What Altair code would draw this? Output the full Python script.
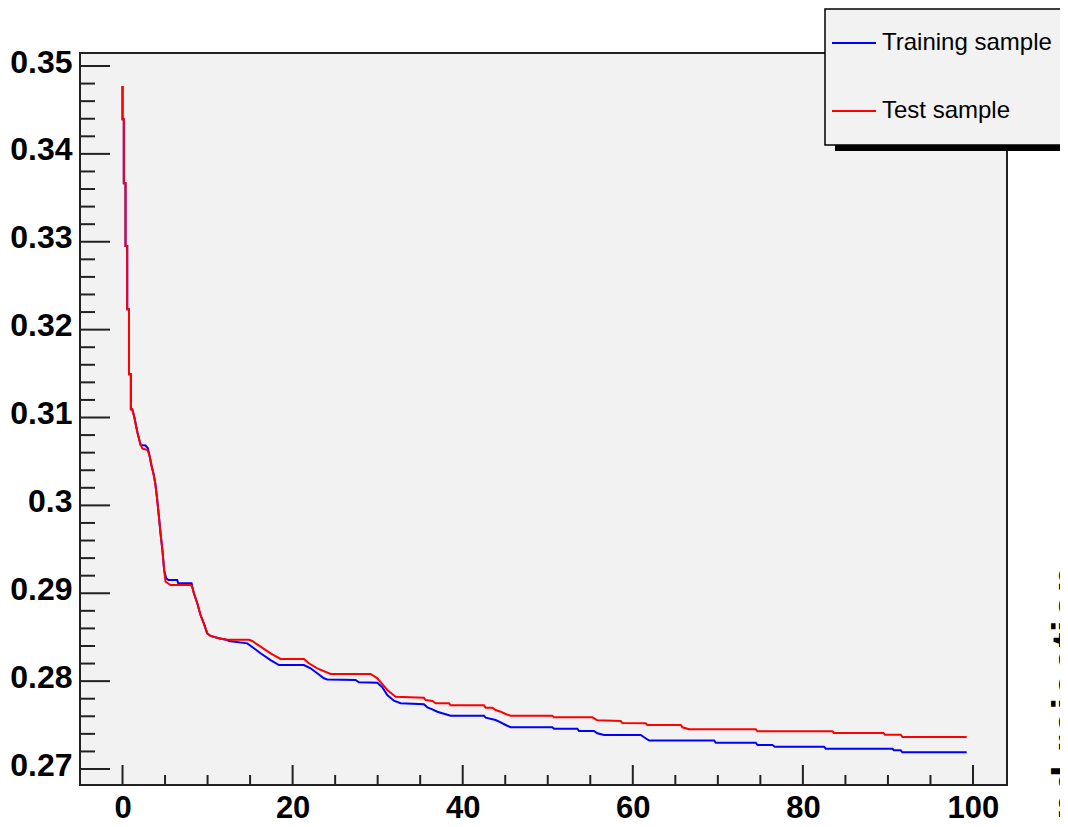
import altair as alt
import pandas as pd

# ---- data ----
common_x = [0, 0, 0.15, 0.15, 0.35, 0.35, 0.55, 0.55, 0.76, 0.76, 0.98, 0.98, 1.14, 1.38, 1.57, 1.76, 2.00]
common_y = [0.34772, 0.34393, 0.34393, 0.33665, 0.33665, 0.32952, 0.32952, 0.32231, 0.32231, 0.31492,
            0.31492, 0.31093, 0.31093, 0.31009, 0.30915, 0.30827, 0.30736]

train_x = common_x + [2.12, 2.70, 2.98, 3.18, 3.41, 3.65, 3.85, 4.04, 4.28, 4.47, 4.70, 4.90, 5.14, 5.41, 6.43,
                      6.55, 8.12, 8.20, 8.39, 8.79, 9.17, 9.56, 9.96, 10.35, 11.32, 12.31, 12.50, 14.67, 15.45,
                      16.23, 17.41, 18.39, 21.32, 22.11, 22.90, 23.68, 24.07, 27.40, 27.79, 29.96, 30.55, 31.13,
                      31.91, 32.70, 35.44, 35.84, 36.43, 37.02, 37.60, 38.58, 42.50, 42.70, 43.87, 44.46, 45.05,
                      45.63, 50.54, 50.73, 53.48, 53.67, 55.44, 55.83, 56.63, 60.94, 61.33, 61.92, 69.57, 69.76,
                      74.46, 74.66, 76.42, 76.69, 82.49, 82.69, 90.53, 90.71, 91.50, 91.70, 99.26]
train_y = common_y + [0.30687, 0.30681, 0.30650, 0.30565, 0.30451, 0.30357, 0.30251, 0.30099, 0.29871, 0.29682,
                      0.29481, 0.29257, 0.29170, 0.29151, 0.29151, 0.29113, 0.29113, 0.29075, 0.28999, 0.28886,
                      0.28752, 0.28658, 0.28544, 0.28514, 0.28487, 0.28468, 0.28457, 0.28430, 0.28374, 0.28317,
                      0.28240, 0.28183, 0.28183, 0.28146, 0.28089, 0.28032, 0.28019, 0.28013, 0.27987, 0.27982,
                      0.27930, 0.27842, 0.27777, 0.27748, 0.27736, 0.27702, 0.27679, 0.27652, 0.27634, 0.27607,
                      0.27607, 0.27584, 0.27558, 0.27531, 0.27501, 0.27475, 0.27475, 0.27459, 0.27459, 0.27432,
                      0.27432, 0.27406, 0.27387, 0.27387, 0.27361, 0.27324, 0.27324, 0.27299, 0.27299, 0.27273,
                      0.27273, 0.27254, 0.27254, 0.27231, 0.27231, 0.27213, 0.27213, 0.27190, 0.27190]

test_x = common_x + [2.32, 2.94, 3.18, 3.41, 3.65, 3.85, 4.04, 4.28, 4.47, 4.70, 4.90, 5.06, 5.65, 7.99, 8.20,
                     8.39, 8.79, 9.17, 9.56, 9.96, 10.35, 11.32, 12.31, 14.86, 15.25, 16.23, 17.41, 18.58, 21.32,
                     21.91, 22.90, 24.46, 29.17, 29.96, 31.13, 32.11, 35.44, 35.64, 36.43, 36.82, 38.38, 38.58,
                     42.50, 42.70, 43.48, 43.87, 44.46, 45.05, 45.63, 50.54, 50.73, 55.24, 55.83, 58.57, 58.77,
                     61.51, 61.71, 65.64, 65.84, 66.61, 74.46, 74.66, 83.47, 83.66, 89.47, 89.66, 91.51, 91.71,
                     99.26]
test_y = common_y + [0.30647, 0.30630, 0.30565, 0.30451, 0.30357, 0.30251, 0.30099, 0.29871, 0.29682, 0.29481,
                     0.29257, 0.29131, 0.29094, 0.29094, 0.29075, 0.28999, 0.28886, 0.28752, 0.28658, 0.28544,
                     0.28514, 0.28487, 0.28470, 0.28470, 0.28457, 0.28392, 0.28317, 0.28252, 0.28252, 0.28203,
                     0.28146, 0.28081, 0.28081, 0.28032, 0.27899, 0.27823, 0.27811, 0.27785, 0.27774, 0.27748,
                     0.27748, 0.27725, 0.27725, 0.27698, 0.27698, 0.27671, 0.27652, 0.27626, 0.27607, 0.27607,
                     0.27588, 0.27588, 0.27554, 0.27546, 0.27523, 0.27520, 0.27501, 0.27501, 0.27475, 0.27452,
                     0.27452, 0.27429, 0.27429, 0.27410, 0.27410, 0.27390, 0.27390, 0.27364, 0.27364]

series_names = ["Training sample", "Test sample"]
series_colors = ["#0000ff", "#ff0000"]

x_major = [0, 20, 40, 60, 80, 100]
x_minor = [5, 10, 15, 25, 30, 35, 45, 50, 55, 65, 70, 75, 85, 90, 95]
y_major = [0.27, 0.28, 0.29, 0.30, 0.31, 0.32, 0.33, 0.34, 0.35]
y_minor = [0.272, 0.274, 0.276, 0.278, 0.282, 0.284, 0.286, 0.288, 0.292, 0.294, 0.296, 0.298,
           0.302, 0.304, 0.306, 0.308, 0.312, 0.314, 0.316, 0.318, 0.322, 0.324, 0.326, 0.328,
           0.332, 0.334, 0.336, 0.338, 0.342, 0.344, 0.346, 0.348]
x_domain = [-5, 104]
y_domain = [0.26818, 0.35148]
side_title = "Background rejection"

# ---- chart ----
W, H = 927, 732
FONT = "Liberation Sans"

df_train = pd.DataFrame({"x": train_x, "y": train_y, "series": series_names[0], "i": range(len(train_x))})
df_test = pd.DataFrame({"x": test_x, "y": test_y, "series": series_names[1], "i": range(len(test_x))})

xs = alt.Scale(domain=x_domain, nice=False, zero=False)
ys = alt.Scale(domain=y_domain, nice=False, zero=False)
xaxis = alt.Axis(values=x_major, format="d", title=None, labelPadding=8, labelFontSize=31)
yaxis = alt.Axis(values=y_major, format=".2~f", title=None, labelPadding=8, labelOffset=-4)
legend = alt.Legend(title=None, orient="none", legendX=745, legendY=-49, symbolType="stroke",
                    symbolSize=1936, symbolStrokeWidth=2, labelFontSize=24, labelFont=FONT,
                    labelFontWeight="normal", labelColor="black", fillColor="transparent",
                    strokeColor="transparent", padding=16, rowPadding=33, labelOffset=5,
                    symbolOffset=-10, labelLimit=400)
color = alt.Color("series:N", scale=alt.Scale(domain=series_names, range=series_colors), legend=legend)

def line_layer(df):
    return alt.Chart(df).mark_line(strokeWidth=2).encode(
        x=alt.X("x:Q", scale=xs, axis=xaxis),
        y=alt.Y("y:Q", scale=ys, axis=yaxis),
        color=color,
        order="i:Q",
    )

tick_color = "#222"
xmaj = alt.Chart(pd.DataFrame({"x": x_major})).mark_rule(color=tick_color, strokeWidth=2).encode(
    x=alt.X("x:Q", scale=xs, axis=xaxis), y=alt.value(H), y2=alt.value(H - 20))
xmin = alt.Chart(pd.DataFrame({"x": x_minor})).mark_rule(color=tick_color, strokeWidth=2).encode(
    x=alt.X("x:Q", scale=xs, axis=xaxis), y=alt.value(H), y2=alt.value(H - 10))
ymaj = alt.Chart(pd.DataFrame({"y": y_major})).mark_rule(color=tick_color, strokeWidth=2).encode(
    y=alt.Y("y:Q", scale=ys, axis=yaxis), x=alt.value(0), x2=alt.value(30))
ymin = alt.Chart(pd.DataFrame({"y": y_minor})).mark_rule(color=tick_color, strokeWidth=2).encode(
    y=alt.Y("y:Q", scale=ys, axis=yaxis), x=alt.value(0), x2=alt.value(15))

one = pd.DataFrame({"k": [0]})
shadow = alt.Chart(one).mark_rect(color="black").encode(
    x=alt.value(755), x2=alt.value(1000), y=alt.value(92), y2=alt.value(98))
legend_box = alt.Chart(one).mark_rect(fill="#f2f2f2", stroke="black", strokeWidth=1.5).encode(
    x=alt.value(745), x2=alt.value(1000), y=alt.value(-44), y2=alt.value(92))
side = alt.Chart(one).mark_text(angle=270, align="right", baseline="alphabetic", fontSize=45,
                                fontWeight="bold", font=FONT, color="black").encode(
    x=alt.value(1003), y=alt.value(512), text=alt.value(side_title))

chart = alt.layer(
    xmin, xmaj, ymin, ymaj, line_layer(df_train), line_layer(df_test), shadow, legend_box, side
).properties(
    width=W, height=H,
    autosize=alt.AutoSizeParams(type="none"),
    padding={"left": 72, "top": 45, "right": 53, "bottom": 34},
    background="white",
).configure_view(
    fill="#f2f2f2", stroke="#222", strokeWidth=2
).configure_axis(
    labelFont=FONT, labelFontWeight="bold", labelFontSize=32, labelColor="black",
    domain=False, ticks=False, grid=False,
)

chart.save("out.html", embed_options={"renderer": "svg", "actions": False})
